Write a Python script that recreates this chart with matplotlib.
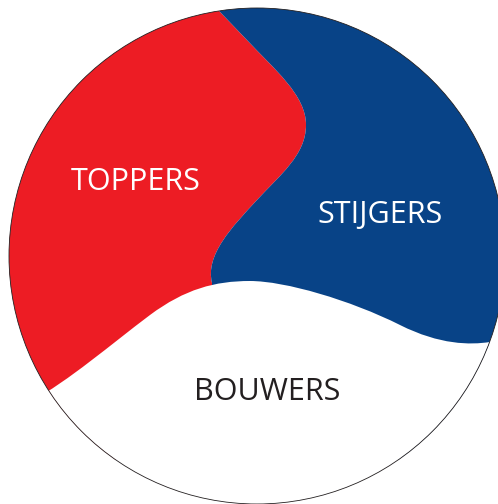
import matplotlib
matplotlib.use("Agg")
import matplotlib.pyplot as plt
from matplotlib.path import Path
from matplotlib.patches import PathPatch, Circle

# groups shown in the circle, with colours and label positions (pixels)
LABELS = ["TOPPERS", "STIJGERS", "BOUWERS"]
COLORS = ["#ed1c24", "#084387", "#ffffff"]
TEXT_COLORS = ["#ffffff", "#ffffff", "#231f20"]
LABEL_X = [136, 380, 267]
LABEL_Y = [182, 215, 392]

CENTER = (257, 256)
RADIUS = 248

M, L, C = Path.MOVETO, Path.LINETO, Path.CURVE4

# boundary between red and blue, from the top of the circle down
border_rb = [(198, -11), (245, 38),
             (275, 70), (306, 95), (306, 125),
             (306, 155), (280, 175), (257, 200),
             (232, 227), (205, 255), (212, 283)]
codes_rb = [M, L, C, C, C, C, C, C, C, C, C]

# top edge of the white part, left to right
border_w = [(30, 402),
            (70, 380), (110, 345), (150, 315),
            (185, 289), (215, 281), (250, 281),
            (285, 281), (350, 300), (400, 325),
            (440, 345), (470, 345), (490, 342),
            (520, 335)]
codes_w = [M, C, C, C, C, C, C, C, C, C, C, C, C, L]


def main():
    fig = plt.figure(figsize=(4.98, 5.04), dpi=100)
    ax = fig.add_axes([0, 0, 1, 1])
    ax.set_xlim(0, 498)
    ax.set_ylim(504, 0)
    ax.set_aspect("auto")
    ax.axis("off")

    clip = Circle(CENTER, RADIUS, transform=ax.transData)

    red = Path(border_rb + [(212, 460), (-20, 460), (-20, -11), (198, -11)],
               codes_rb + [L, L, L, L])
    blue = Path(border_rb + [(212, 460), (540, 460), (540, -11), (198, -11)],
                codes_rb + [L, L, L, L])
    white = Path(border_w + [(540, 540), (-20, 540), (-20, 402), (30, 402)],
                 codes_w + [L, L, L, L])

    for path, col in zip([red, blue, white], COLORS):
        p = PathPatch(path, facecolor=col, edgecolor="none")
        ax.add_patch(p)
        p.set_clip_path(clip)

    ax.add_patch(Circle(CENTER, RADIUS, facecolor="none",
                        edgecolor="#231f20", lw=0.6))

    for lab, x, y, tc in zip(LABELS, LABEL_X, LABEL_Y, TEXT_COLORS):
        ax.text(x, y, lab, color=tc, fontsize=22, family="Open Sans",
                ha="center", va="center")

    fig.savefig("out.png", dpi=100)


if __name__ == "__main__":
    main()
